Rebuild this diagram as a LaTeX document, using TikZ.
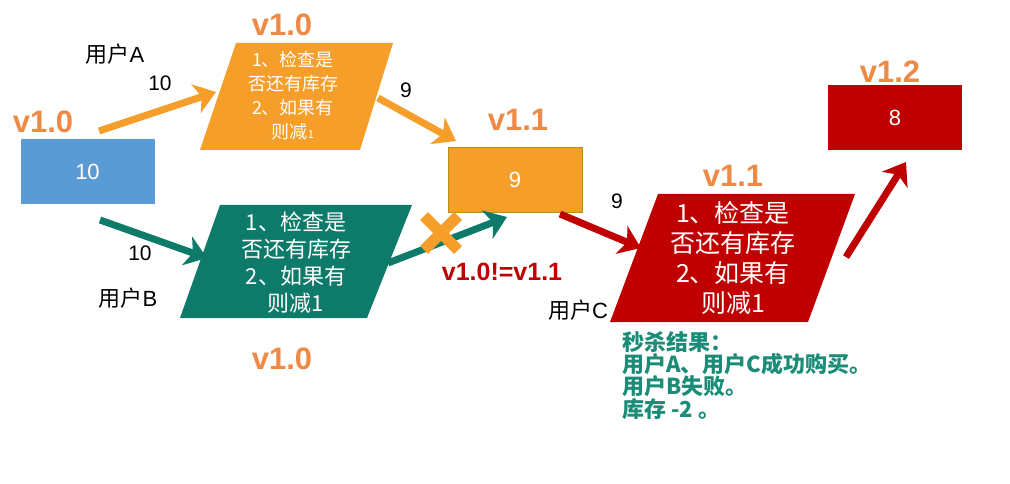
\documentclass[tikz,border=0pt]{standalone}
\usepackage{fontspec}
\setmainfont{Liberation Sans}
\newfontfamily\cjk{Noto Sans CJK SC}
\usetikzlibrary{arrows.meta}
\definecolor{cblue}{HTML}{5B9BD5}
\definecolor{corange}{HTML}{F59E2A}
\definecolor{cteal}{HTML}{0E7B6A}
\definecolor{cred}{HTML}{C00000}
\definecolor{cver}{HTML}{EE8A45}
\definecolor{cres}{HTML}{1A8C78}
\begin{document}
\begin{tikzpicture}[x=1pt,y=-1pt,
  ver/.style={text=cver,font=\fontsize{31}{31}\selectfont\bfseries,inner sep=0pt},
  lbl/.style={text=black,font=\fontsize{22}{22}\selectfont,inner sep=0pt},
  num/.style={text=black,font=\fontsize{21}{21}\selectfont,inner sep=0pt},
  box/.style={minimum width=134pt,minimum height=65pt,inner sep=0pt,text=white,font=\fontsize{22}{22}\selectfont},
  fat/.style={line width=7pt,-{Stealth[length=21pt,width=30pt,inset=6pt]}},
  ptxt/.style={text=white,align=center,inner sep=0pt}
]
\useasboundingbox (0,0) rectangle (1010,484);
\fill[white] (0,0) rectangle (1010,484);

% boxes
\node[box,fill=cblue] (b0) at (87.5,172) {10};
\node[box,fill=corange,draw=olive!70!corange,line width=0.8pt] (b1) at (515,179.5) {9};
\node[box,fill=cred] (b2) at (895,118) {8};

% parallelograms
\fill[corange] (236,43) -- (393,43) -- (360,150) -- (200,150) -- cycle;
\node[ptxt,font=\cjk\fontsize{18}{24}\selectfont] (pa) at (293,96) {1、检查是\\否还有库存\\2、如果有\\则减{\fontsize{11}{11}\selectfont 1}};
\fill[cteal] (220,205) -- (412,205) -- (367,318) -- (180,318) -- cycle;
\node[ptxt,font=\cjk\fontsize{22}{27}\selectfont] (pb) at (296,263) {1、检查是\\否还有库存\\2、如果有\\则减1};
\fill[cred] (658,194) -- (855,194) -- (808,322) -- (610,322) -- cycle;
\node[ptxt,font=\cjk\fontsize{25}{30}\selectfont] (pc) at (733,258) {1、检查是\\否还有库存\\2、如果有\\则减1};

% version labels
\node[ver] (v0) at (43,122) {v1.0};
\node[ver] (va) at (282,25) {v1.0};
\node[ver] (vb) at (282,359) {v1.0};
\node[ver] (v1) at (518,120) {v1.1};
\node[ver] (vc) at (733,176) {v1.1};
\node[ver] (v2) at (890,72) {v1.2};

% user labels and numbers
\node[lbl] (ua) at (115,54) {{\cjk 用户}A};
\node[num] (na) at (160,83) {10};
\node[num] (n9a) at (406,90) {9};
\node[num] (nb) at (140,253) {10};
\node[lbl] (ub) at (128,298) {{\cjk 用户}B};
\node[num] (n9c) at (617,201) {9};
\node[lbl] (uc) at (578,310) {{\cjk 用户}C};

% arrow endpoints
\coordinate (a1s) at (99,131);
\coordinate (a1e) at (216,92);
\coordinate (a2s) at (378,98);
\coordinate (a2e) at (456,141);
\coordinate (a3s) at (100,220);
\coordinate (a3e) at (207,258);
\coordinate (a4s) at (388,263);
\coordinate (a4e) at (507,217);
\coordinate (a5s) at (560,214);
\coordinate (a5e) at (641,248);
\coordinate (a6s) at (846,257);
\coordinate (a6e) at (906,162);

\draw[fat,draw=corange,fill=corange] (a1s) -- (a1e);
\draw[fat,draw=corange,fill=corange] (a2s) -- (a2e);
\draw[fat,draw=cteal,fill=cteal] (a3s) -- (a3e);
\draw[fat,draw=cteal,fill=cteal] (a4s) -- (a4e);
\draw[fat,draw=cred,fill=cred] (a5s) -- (a5e);
\draw[fat,draw=cred,fill=cred] (a6s) -- (a6e);

% cross mark
\coordinate (xc) at (441,233);
\draw[corange,line width=11pt] ([shift={(-17,-17)}]xc) -- ([shift={(17,17)}]xc);
\draw[corange,line width=11pt] ([shift={(17,-17)}]xc) -- ([shift={(-17,17)}]xc);

\node[text=cred,font=\fontsize{25}{25}\selectfont\bfseries,inner sep=0pt] (neq) at (502,272) {v1.0!=v1.1};

% result
\node[text=cres,font=\cjk\bfseries\fontsize{22}{21}\selectfont,align=left,anchor=north west,inner sep=0pt] (res) at (622,331) {秒杀结果：\\用户A、用户C成功购买。\\用户B失败。\\库存 -2 。};
\end{tikzpicture}
\end{document}
